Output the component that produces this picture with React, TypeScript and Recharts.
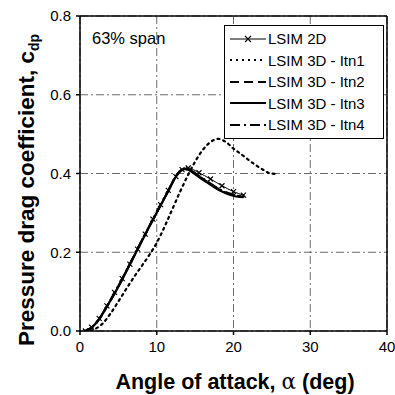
import React from 'react';
import { LineChart, Line, XAxis, YAxis, CartesianGrid, ReferenceLine, Legend } from 'recharts';

// ---- Data ----
const xTicks = [0, 10, 20, 30, 40];
const yTicks = [0, 0.2, 0.4, 0.6, 0.8];

const alpha2D = [0.7, 1.5, 2.5, 3.5, 4.5, 5.5, 6.5, 7.5, 8.5, 9.5, 10.5, 11.5, 12.5, 13.3, 14.1, 15.5, 17, 18.5, 20, 21.3];
const cdp2D = [0, 0.01, 0.032, 0.064, 0.098, 0.133, 0.17, 0.208, 0.246, 0.284, 0.321, 0.357, 0.392, 0.41, 0.414, 0.402, 0.386, 0.369, 0.354, 0.345];

const alphaItn1 = [1.4, 3, 4, 5, 6, 7, 8, 9, 10, 11, 12, 13, 14, 15, 16, 17, 18, 19, 20, 21, 22, 23, 24, 24.8, 25.8];
const cdpItn1 = [0, 0.02, 0.045, 0.075, 0.106, 0.136, 0.164, 0.192, 0.224, 0.264, 0.308, 0.352, 0.393, 0.43, 0.46, 0.48, 0.488, 0.48, 0.463, 0.449, 0.434, 0.42, 0.408, 0.4, 0.399];

const alphaItn2 = [0.7, 1.5, 2.5, 3.5, 4.5, 5.5, 6.5, 7.5, 8.5, 9.5, 10.5, 11.5, 12.5, 13.2, 13.8, 14.5, 15.5, 16.5, 17.5, 18.5, 19.5, 20.5, 21.4];
const cdpItn2 = [0, 0.008, 0.03, 0.062, 0.096, 0.132, 0.17, 0.208, 0.246, 0.283, 0.32, 0.356, 0.393, 0.408, 0.412, 0.406, 0.393, 0.38, 0.367, 0.356, 0.348, 0.343, 0.341];

const alphaItn3 = [0.7, 1.5, 2.5, 3.5, 4.5, 5.5, 6.5, 7.5, 8.5, 9.5, 10.5, 11.5, 12.5, 13.2, 13.8, 14.5, 15.5, 16.5, 17.5, 18.5, 19.5, 20.5, 21.3];
const cdpItn3 = [0, 0.008, 0.03, 0.062, 0.095, 0.131, 0.169, 0.207, 0.245, 0.282, 0.319, 0.355, 0.392, 0.408, 0.412, 0.405, 0.391, 0.378, 0.365, 0.354, 0.346, 0.341, 0.34];

const alphaItn4 = [0.7, 1.5, 2.5, 3.5, 4.5, 5.5, 6.5, 7.5, 8.5, 9.5, 10.5, 11.5, 12.5, 13.2, 13.8, 14.5, 15.5, 16.5, 17.5, 18.5, 19.5, 20.5, 21.5];
const cdpItn4 = [0, 0.009, 0.031, 0.063, 0.097, 0.133, 0.171, 0.209, 0.247, 0.284, 0.321, 0.357, 0.394, 0.409, 0.413, 0.407, 0.394, 0.381, 0.368, 0.357, 0.349, 0.344, 0.342];

const seriesNames = ['LSIM 2D', 'LSIM 3D - Itn1', 'LSIM 3D - Itn2', 'LSIM 3D - Itn3', 'LSIM 3D - Itn4'];

const toPts = (a: number[], c: number[]) => a.map((x, i) => ({ a: x, c: c[i] }));

const FONT = '"Liberation Sans", Arial, Helvetica, sans-serif';

const Cross = (props: any) => {
  const { cx, cy, index } = props;
  if (cx == null || cy == null) return <g key={index} />;
  const s = 2.5;
  return (
    <path
      key={index}
      d={`M${cx - s},${cy - s}L${cx + s},${cy + s}M${cx - s},${cy + s}L${cx + s},${cy - s}`}
      stroke="#000"
      strokeWidth={1.2}
      fill="none"
    />
  );
};

const legendStyles = [
  { dash: undefined, w: 1, marker: true },
  { dash: '2 4', w: 2, marker: false },
  { dash: '9 5', w: 2, marker: false },
  { dash: undefined, w: 2, marker: false },
  { dash: '10 4 2 4', w: 2, marker: false },
];

const LegendBox = () => (
  <div
    style={{
      border: '1.5px solid #000',
      background: '#fff',
      width: 160,
      padding: '2px 0 2px 0',
      fontFamily: FONT,
      fontSize: 15,
      color: '#000',
      boxSizing: 'border-box',
    }}
  >
    {seriesNames.map((n, i) => (
      <div key={n} style={{ display: 'flex', alignItems: 'center', height: 21.5 }}>
        <svg width={40} height={12} style={{ marginLeft: 3 }}>
          <line x1={2} y1={6} x2={38} y2={6} stroke="#000" strokeWidth={legendStyles[i].w} strokeDasharray={legendStyles[i].dash} />
          {legendStyles[i].marker && <path d="M17,3L23,9M17,9L23,3" stroke="#000" strokeWidth={1.2} />}
        </svg>
        <span style={{ marginLeft: 0, whiteSpace: 'nowrap' }}>{n}</span>
      </div>
    ))}
  </div>
);

export default function App() {
  return (
    <div style={{ position: 'absolute', left: 0, top: 0, width: 395, height: 395, background: '#fff' }}>
      <LineChart width={395} height={395} margin={{ top: 16, right: 8, left: 0, bottom: 0 }}>
        <CartesianGrid stroke="#444" strokeDasharray="8 3 2 3" strokeWidth={0.8} />
        <XAxis
          type="number"
          dataKey="a"
          domain={[0, 40]}
          ticks={xTicks}
          height={64}
          stroke="#000"
          strokeWidth={1.5}
          tickSize={4}
          tick={{ fill: '#000', fontSize: 15, fontFamily: FONT }}
          tickMargin={6}
          allowDataOverflow
          label={() => (
            <text x={235} y={389} textAnchor="middle" fontFamily={FONT} fontWeight="bold" fontSize={21.5} fill="#000">
              Angle of attack, <tspan fontWeight="normal" fontFamily='"DejaVu Serif", serif'>α</tspan> (deg)
            </text>
          )}
        />
        <YAxis
          type="number"
          domain={[0, 0.8]}
          ticks={yTicks}
          width={80}
          stroke="#000"
          strokeWidth={1.5}
          tickSize={4}
          tick={{ fill: '#000', fontSize: 15, fontFamily: FONT }}
          tickMargin={5}
          tickFormatter={(v: number) => v.toFixed(1)}
          allowDataOverflow
          label={() => (
            <text
              x={34}
              y={190}
              transform="rotate(-90, 34, 190)"
              textAnchor="middle"
              fontFamily={FONT}
              fontWeight="bold"
              fontSize={22.5}
              fill="#000"
            >
              Pressure drag coefficient, c<tspan fontSize={14} dy={5}>dp</tspan>
            </text>
          )}
        />
        <ReferenceLine y={0.8} stroke="#000" strokeWidth={1.5} />
        <ReferenceLine x={40} stroke="#000" strokeWidth={1.5} />
        <Line data={toPts(alphaItn1, cdpItn1)} dataKey="c" name={seriesNames[1]} stroke="#000" strokeWidth={2.2} strokeDasharray="2 4" strokeLinecap="round" dot={false} type="monotone" isAnimationActive={false} />
        <Line data={toPts(alphaItn2, cdpItn2)} dataKey="c" name={seriesNames[2]} stroke="#000" strokeWidth={2.2} strokeDasharray="9 5" dot={false} type="monotone" isAnimationActive={false} />
        <Line data={toPts(alphaItn3, cdpItn3)} dataKey="c" name={seriesNames[3]} stroke="#000" strokeWidth={2.2} dot={false} type="monotone" isAnimationActive={false} />
        <Line data={toPts(alphaItn4, cdpItn4)} dataKey="c" name={seriesNames[4]} stroke="#000" strokeWidth={2.2} strokeDasharray="10 4 2 4" dot={false} type="monotone" isAnimationActive={false} />
        <Line data={toPts(alpha2D, cdp2D)} dataKey="c" name={seriesNames[0]} stroke="#000" strokeWidth={1} dot={<Cross />} type="monotone" isAnimationActive={false} />
        <text x={92} y={44} fontFamily={FONT} fontSize={16.5} fill="#000">63% span</text>
        <Legend
          layout="vertical"
          align="center"
          verticalAlign="middle"
          content={() => <LegendBox />}
          wrapperStyle={{ position: 'absolute', left: 224, top: 25, width: 160 }}
        />
      </LineChart>
    </div>
  );
}
